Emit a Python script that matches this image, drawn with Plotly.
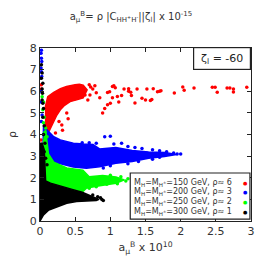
import plotly.graph_objects as go

# ---------------- data ----------------
# dense regions (outline of each point cloud)
red_blob_x = [0.07, 0.11, 0.195, 0.29, 0.377, 0.45, 0.498, 0.56, 0.614, 0.67, 0.64, 0.614, 0.52, 0.428, 0.35, 0.289, 0.24, 0.195, 0.15, 0.126, 0.10, 0.07]
red_blob_y = [5.2, 5.75, 5.95, 6.12, 6.22, 6.28, 6.30, 6.32, 6.28, 6.06, 5.85, 5.69, 5.6, 5.52, 5.35, 5.14, 4.9, 4.6, 4.35, 4.13, 3.95, 4.0]

blue_blob_x = [0.04, 0.05, 0.07, 0.126, 0.195, 0.289, 0.474, 0.62, 0.753, 0.847, 1.078, 1.311, 1.544, 1.775, 1.94, 1.77, 1.544, 1.311, 1.078, 0.847, 0.66, 0.474, 0.195, 0.098, 0.056]
blue_blob_y = [3.0, 4.4, 4.31, 4.12, 3.90, 3.75, 3.60, 3.56, 3.54, 3.33, 3.40, 3.26, 3.19, 3.17, 3.08, 2.98, 2.90, 2.75, 2.67, 2.51, 2.44, 2.50, 2.73, 2.96, 3.0]

green_blob_x = [0.03, 0.04, 0.08, 0.12, 0.195, 0.38, 0.61, 0.70, 0.89, 1.08, 1.2, 1.08, 0.85, 0.66, 0.60, 0.47, 0.30, 0.15, 0.08]
green_blob_y = [1.9, 3.5, 4.2, 3.1, 2.72, 2.45, 2.35, 2.05, 2.1, 2.03, 1.9, 1.75, 1.63, 1.52, 1.33, 1.45, 1.6, 1.75, 1.85]

black_blob_x = [0.0, 0.05, 0.126, 0.24, 0.38, 0.52, 0.68, 0.80, 0.84, 0.78, 0.70, 0.60, 0.47, 0.30, 0.15, 0.08, 0.075, 0.06, 0.03, 0.01, 0.0]
black_blob_y = [0.0, 0.28, 0.51, 0.66, 0.82, 0.90, 0.93, 0.95, 1.0, 1.08, 1.2, 1.33, 1.45, 1.6, 1.75, 1.85, 2.6, 3.3, 3.6, 3.6, 3.0]

# isolated points
red_pts_x = [0.64, 0.68, 0.71, 0.80, 0.85, 0.89, 0.92, 0.96, 1.0, 1.03, 1.07, 1.12, 1.16, 1.26, 1.30, 1.35, 1.03, 1.05, 0.96, 0.99, 1.10, 1.195, 1.26, 1.29, 1.38, 1.45, 1.50, 1.52, 1.57, 1.59, 1.61, 1.67, 1.70, 1.72, 1.91, 2.03, 2.05, 2.19, 2.45, 2.49, 2.52, 2.66, 2.70, 2.75, 2.75, 2.94, 0.38, 0.40, 0.31, 0.32, 0.27, 0.22, 0.72, 0.75, 0.78, 0.70, 0.02, 0.02, 0.015, 0.02, 0.025]
red_pts_y = [5.83, 5.6, 5.83, 5.93, 5.7, 4.99, 5.2, 5.37, 5.45, 5.7, 6.16, 5.5, 5.8, 6.0, 5.8, 5.46, 6.22, 6.25, 5.94, 5.98, 5.76, 6.1, 6.12, 5.95, 6.1, 5.68, 5.60, 6.1, 5.57, 5.62, 6.12, 5.98, 6.0, 6.02, 5.92, 6.2, 6.05, 6.15, 6.18, 6.18, 5.95, 6.15, 6.15, 6.1, 5.97, 6.18, 5.0, 4.73, 4.44, 4.2, 4.6, 4.07, 6.2, 6.1, 6.25, 6.3, 6.3, 6.1, 3.75, 3.38, 3.55]

blue_pts_x = [0.60, 0.70, 0.8, 0.92, 1.0, 1.05, 1.16, 1.25, 1.35, 1.45, 1.6, 1.7, 1.8, 1.9, 1.95, 1.25, 1.4, 1.6, 1.0, 0.9, 1.7, 2.0, 0.02, 0.015, 0.02, 0.025, 0.015, 0.02, 0.025, 0.02, 0.02, 0.03, 0.02, 0.02, 0.03, 0.02, 0.015]
blue_pts_y = [3.62, 3.62, 3.6, 3.9, 3.92, 3.56, 3.6, 3.45, 3.4, 3.35, 3.3, 3.25, 3.2, 3.15, 3.1, 2.65, 2.75, 2.85, 2.55, 2.45, 2.95, 3.1, 7.9, 7.76, 7.53, 7.38, 7.07, 6.9, 6.68, 6.0, 5.5, 4.9, 4.6, 3.0, 2.4, 1.9, 1.5]

green_pts_x = [1.25, 1.22, 1.15, 1.0, 0.95, 0.8, 0.7, 1.1, 0.03, 0.05, 0.04, 0.06, 0.05, 0.08, 0.07, 0.1, 0.06, 0.09]
green_pts_y = [1.95, 1.85, 2.05, 2.12, 1.7, 1.58, 1.52, 1.72, 5.75, 5.5, 5.14, 4.8, 4.54, 4.3, 4.1, 3.9, 3.2, 2.7]

black_pts_x = [0.88, 0.86, 0.82, 0.75, 0.9, 0.02, 0.03, 0.02, 0.04, 0.03, 0.035, 0.03, 0.04, 0.05, 0.04, 0.06, 0.05, 0.07, 0.06, 0.08, 0.1]
black_pts_y = [1.0, 1.08, 1.12, 1.2, 0.95, 7.22, 6.84, 6.6, 6.37, 6.1, 5.91, 5.6, 5.45, 5.2, 4.8, 4.4, 4.0, 3.6, 3.2, 2.9, 2.6]

legend_labels = ["M<sub>H</sub>=M<sub>H<sup>±</sup></sub>=150 GeV, ρ≈ 6",
                 "M<sub>H</sub>=M<sub>H<sup>±</sup></sub>=200 GeV, ρ≈ 3",
                 "M<sub>H</sub>=M<sub>H<sup>±</sup></sub>=250 GeV, ρ≈ 2",
                 "M<sub>H</sub>=M<sub>H<sup>±</sup></sub>=300 GeV, ρ≈ 1"]
colors = ["#ff0000", "#0000ff", "#00ff00", "#000000"]

x_ticks = [0, 0.5, 1, 1.5, 2, 2.5, 3]
x_ticktext = ["0", "0.5", "1", "1.5", "2", "2.5", "3"]
y_ticks = [0, 1, 2, 3, 4, 5, 6, 7, 8]

# ---------------- figure ----------------
fig = go.Figure()
series = [(red_blob_x, red_blob_y, red_pts_x, red_pts_y),
          (blue_blob_x, blue_blob_y, blue_pts_x, blue_pts_y),
          (green_blob_x, green_blob_y, green_pts_x, green_pts_y),
          (black_blob_x, black_blob_y, black_pts_x, black_pts_y)]
for (bx, by, px, py), c in zip(series, colors):
    fig.add_trace(go.Scatter(x=bx, y=by, mode="lines", fill="toself", fillcolor=c,
                             line=dict(color=c, width=1.5), hoverinfo="skip", showlegend=False))
    fig.add_trace(go.Scatter(x=px, y=py, mode="markers",
                             marker=dict(color=c, size=3.5, line=dict(width=0)),
                             showlegend=False))

font = "DejaVu Sans, sans-serif"
axis_common = dict(showline=True, linecolor="#222", linewidth=1, mirror="ticks",
                   ticks="inside", ticklen=4, tickcolor="#222", showgrid=False, zeroline=False,
                   tickfont=dict(family=font, size=11, color="#333"))
fig.update_xaxes(range=[0, 3], tickvals=x_ticks, ticktext=x_ticktext,
                 title=dict(text="a<sub>μ</sub><sup>B</sup> x 10<sup>10</sup>", font=dict(family=font, size=11, color="#333"), standoff=6),
                 **axis_common)
fig.update_yaxes(range=[0, 8], tickvals=y_ticks,
                 title=dict(text="ρ", font=dict(family=font, size=11, color="#333"), standoff=10),
                 **axis_common)

# legend box
fig.add_shape(type="rect", xref="x", yref="y", x0=1.283, x1=2.985, y0=0.09, y1=2.22,
              line=dict(color="#222", width=1.2), fillcolor="white", layer="above")
leg_y = [1.76, 1.34, 0.88, 0.42]
for lab, c, ly in zip(legend_labels, colors, leg_y):
    fig.add_annotation(x=1.31, y=ly, xref="x", yref="y", text=lab, showarrow=False,
                       xanchor="left", yanchor="middle", font=dict(family=font, size=8, color="#333"))
    fig.add_annotation(x=2.915, y=ly, xref="x", yref="y", text="●", showarrow=False,
                       xanchor="center", yanchor="middle", font=dict(family=font, size=5, color=c))

# zeta box
fig.add_annotation(x=2.585, y=7.52, xref="x", yref="y", text="ζ<sub>l</sub> = -60", showarrow=False,
                   font=dict(family=font, size=11, color="#222"), bgcolor="white",
                   bordercolor="#222", borderwidth=1.2, width=54, height=19, borderpad=1)

fig.update_layout(
    width=270, height=270,
    margin=dict(l=36, r=19, t=48, b=49),
    paper_bgcolor="white", plot_bgcolor="white",
    title=dict(text="a<sub>μ</sub><sup>B</sup>= ρ |C<sub>HH<sup>+</sup>H<sup>-</sup></sub>||ζ<sub>l</sub>| x 10<sup>-15</sup>",
               x=0.485, xanchor="center", y=0.94, yanchor="middle",
               font=dict(family=font, size=10, color="#333")),
    showlegend=False,
)

fig.write_html("out.html", config={"displayModeBar": False},
               post_script="document.body.style.margin='0';")
